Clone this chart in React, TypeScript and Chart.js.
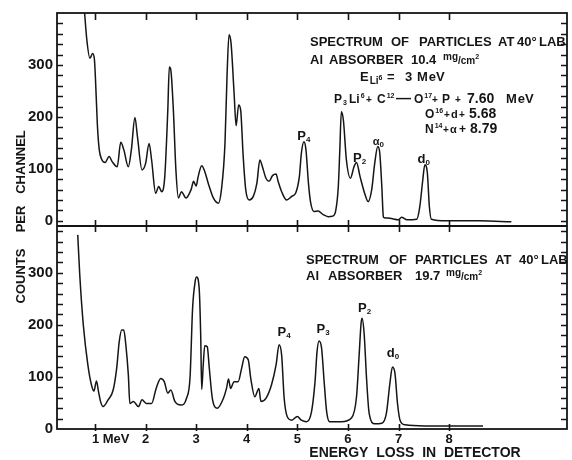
import React, { useEffect, useRef } from 'react';
import { Chart, registerables } from 'chart.js';

Chart.register(...registerables);

// ---------------- data ----------------
// Upper spectrum: Al absorber 10.4 mg/cm^2
const topEnergy = [
  0.78, 0.84, 0.9, 0.955, 0.99, 1.03, 1.05, 1.085, 1.13, 1.2, 1.28, 1.34, 1.44, 1.51, 1.57, 1.66,
  1.72, 1.79, 1.84, 1.93, 2.0, 2.07, 2.12, 2.2, 2.26, 2.32, 2.38, 2.44, 2.47, 2.5, 2.55, 2.6,
  2.65, 2.71, 2.8, 2.9, 2.95, 3.0, 3.04, 3.11, 3.17, 3.24, 3.34, 3.44, 3.5, 3.57, 3.61, 3.65,
  3.69, 3.75, 3.79, 3.84, 3.88, 3.93, 3.98, 4.05, 4.13, 4.2, 4.26, 4.31, 4.38, 4.44, 4.51, 4.58,
  4.62, 4.69, 4.79, 4.89, 4.97, 5.04, 5.08, 5.13, 5.17, 5.22, 5.26, 5.33, 5.41, 5.51, 5.61, 5.7,
  5.76, 5.81, 5.84, 5.87, 5.91, 5.97, 6.05, 6.12, 6.17, 6.24, 6.34, 6.4, 6.47, 6.53, 6.59, 6.63,
  6.67, 6.7, 6.72, 6.83, 7.0, 7.06, 7.16, 7.36, 7.42, 7.48, 7.52, 7.57, 7.61, 7.65, 7.95, 8.61,
  9.23,
];
const topCounts = [
  420, 348, 313, 322, 310, 227, 181, 137, 119, 112, 124, 114, 104, 151, 137, 104,
  137, 199, 162, 98, 110, 149, 117, 53, 66, 56, 85, 213, 296, 290, 213, 98,
  44, 56, 44, 60, 76, 67, 85, 106, 95, 72, 44, 34, 60, 149, 277, 358,
  342, 246, 183, 223, 213, 124, 60, 40, 47, 72, 117, 104, 82, 76, 87, 90,
  76, 56, 40, 47, 54, 85, 130, 152, 137, 72, 37, 18, 19, 12, 8, 9,
  20, 66, 137, 210, 194, 117, 82, 104, 112, 85, 50, 37, 60, 111, 143, 130,
  66, 8, 6, 5, 2, 7, 2, 3, 27, 79, 108, 92, 27, 3, 0, 0,
  -2,
];

// Lower spectrum: Al absorber 19.7 mg/cm^2
const bottomEnergy = [
  0.66, 0.7, 0.77, 0.86, 0.93, 0.98, 1.03, 1.07, 1.11, 1.16, 1.26, 1.36, 1.43, 1.48, 1.53, 1.57,
  1.61, 1.66, 1.69, 1.76, 1.86, 1.93, 2.02, 2.12, 2.21, 2.3, 2.37, 2.44, 2.5, 2.58, 2.7, 2.81,
  2.88, 2.93, 2.98, 3.01, 3.06, 3.09, 3.11, 3.14, 3.17, 3.22, 3.26, 3.32, 3.42, 3.54, 3.6, 3.64,
  3.68, 3.75, 3.83, 3.9, 3.96, 4.03, 4.08, 4.16, 4.24, 4.28, 4.38, 4.49, 4.58, 4.64, 4.69, 4.74,
  4.8, 4.89, 5.0, 5.08, 5.18, 5.28, 5.35, 5.39, 5.43, 5.48, 5.53, 5.58, 5.64, 5.87, 6.07, 6.17,
  6.22, 6.26, 6.28, 6.32, 6.37, 6.42, 6.53, 6.67, 6.76, 6.83, 6.88, 6.93, 6.98, 7.03, 7.13, 7.52,
  8.67,
];
const bottomCounts = [
  373, 296, 200, 123, 85, 73, 92, 72, 53, 43, 56, 75, 117, 168, 190, 190,
  162, 104, 49, 53, 43, 56, 49, 49, 78, 97, 91, 69, 75, 53, 46, 59,
  100, 232, 283, 292, 270, 181, 76, 123, 160, 158, 117, 59, 40, 59, 78, 96,
  78, 91, 91, 117, 139, 133, 97, 62, 78, 53, 59, 85, 123, 162, 142, 59,
  24, 17, 24, 17, 14, 33, 91, 149, 169, 155, 91, 33, 14, 14, 21, 62,
  139, 203, 213, 184, 94, 30, 10, 11, 30, 88, 119, 107, 49, 17, 8, 6,
  6,
];

// axis ticks
const xTickValues = [1, 2, 3, 4, 5, 6, 7, 8];
const xTickLabels = ['1 MeV', '2', '3', '4', '5', '6', '7', '8'];
const yTickValues = [0, 100, 200, 300];
const yMinorTickValues = [0, 20, 40, 60, 80, 100, 120, 140, 160, 180, 200, 220, 240, 260, 280, 300, 320, 340, 360, 380];
const xAxisTitle = 'ENERGY LOSS IN DETECTOR';
const yAxisWords = ['COUNTS', 'PER', 'CHANNEL'];

// peak labels (letter, subscript) placed at data coordinates (energy, counts)
const topPeakNames = [['P', '4'], ['P', '2'], ['α', '0'], ['d', '0']];
const topPeakEnergy = [5.13, 6.23, 6.6, 7.5];
const topPeakLevel = [156, 113, 146, 112];
const bottomPeakNames = [['P', '4'], ['P', '3'], ['P', '2'], ['d', '0']];
const bottomPeakEnergy = [4.74, 5.51, 6.33, 6.89];
const bottomPeakLevel = [179, 185, 225, 138];

// ---------------- styling / layout ----------------
const INK = '#151515';
const FAMILY = '"Liberation Sans", Arial, sans-serif';

// text segment: [text, fontSize, dy, x?]
type Seg = [string, number, number, number?];
type TextLine = { y: number; segs: Seg[] };

const topNote: TextLine[] = [
  { y: 46, segs: [['SPECTRUM', 13, 0, 310], ['OF', 13, 0, 391], ['PARTICLES', 13, 0, 419], ['AT', 13, 0, 498], ['40°', 13, 0, 517], ['LAB', 13, 0, 539]] },
  { y: 64, segs: [['Al', 13, 0, 310], ['ABSORBER', 13, 0, 329], ['10.4', 13, 0, 411], ['mg', 10, -4, 443], ['/', 10, 0], ['cm', 10, 0], ['2', 7, -5]] },
  { y: 81, segs: [['E', 13, 0, 360], ['Li', 10, 3], ['6', 7, -1], ['=', 13, 0, 387], ['3', 13, 0, 405], ['M', 13, 0, 417], ['eV', 13, 0]] },
  { y: 103, segs: [['P', 12, 0, 334], ['3', 7, 2], ['Li', 12, 0, 349], ['6', 7, -5], ['+', 10, 0, 366], ['C', 12, 0, 377], ['12', 7, -5], ['—', 15, 0, 396], ['O', 12, 0, 414], ['17', 7, -5], ['+', 10, 0, 432], ['P', 12, 0, 442], ['+', 10, 0, 455], ['7.60', 14, 0, 467], ['M', 13, 0, 506], ['eV', 13, 0]] },
  { y: 118, segs: [['O', 12, 0, 425], ['16', 7, -5], ['+', 10, 0, 444], ['d', 11, 0, 451], ['+', 10, 0, 459], ['5.68', 14, 0, 469]] },
  { y: 133, segs: [['N', 12, 0, 425], ['14', 7, -5], ['+', 10, 0, 443], ['α', 11, 0, 450], ['+', 12, 0, 459], ['8.79', 14, 0, 470]] },
];

const bottomNote: TextLine[] = [
  { y: 264, segs: [['SPECTRUM', 13, 0, 306], ['OF', 13, 0, 389], ['PARTICLES', 13, 0, 415], ['AT', 13, 0, 495], ['40°', 13, 0, 519], ['LAB', 13, 0, 541]] },
  { y: 280, segs: [['Al', 13, 0, 306], ['ABSORBER', 13, 0, 328], ['19.7', 13, 0, 415], ['mg', 10, -4, 446], ['/', 10, 0], ['cm', 10, 0], ['2', 7, -5]] },
];

function drawSegs(ctx: CanvasRenderingContext2D, line: TextLine) {
  let x = 0;
  for (const [t, size, dy, ax] of line.segs) {
    if (ax !== undefined) x = ax;
    ctx.font = `bold ${size}px ${FAMILY}`;
    ctx.fillText(t, x, line.y + dy);
    x += ctx.measureText(t).width + (size >= 12 ? 1 : 0);
  }
}

function drawPeakLabel(ctx: CanvasRenderingContext2D, name: string[], cx: number, by: number) {
  const mainSize = name[0] === 'α' ? 11 : 13;
  ctx.font = `bold ${mainSize}px ${FAMILY}`;
  const w1 = ctx.measureText(name[0]).width;
  ctx.font = `bold 8px ${FAMILY}`;
  const w2 = ctx.measureText(name[1]).width;
  const x0 = cx - (w1 + w2) / 2;
  ctx.font = `bold ${mainSize}px ${FAMILY}`;
  ctx.fillText(name[0], x0, by);
  ctx.font = `bold 8px ${FAMILY}`;
  ctx.fillText(name[1], x0 + w1, by + 2);
}

const framePlugin = {
  id: 'frameAndNotes',
  afterDraw(chart: any) {
    const { ctx } = chart;
    const xs = chart.scales.x;
    const yt = chart.scales.yTop;
    const yb = chart.scales.yBot;
    const left = chart.chartArea.left;
    const right = chart.chartArea.right;
    const seg = (x1: number, y1: number, x2: number, y2: number) => {
      ctx.beginPath();
      ctx.moveTo(x1, y1);
      ctx.lineTo(x2, y2);
      ctx.stroke();
    };
    ctx.save();
    ctx.strokeStyle = INK;
    ctx.fillStyle = INK;
    ctx.lineWidth = 1.8;
    ctx.strokeRect(left, yt.top, right - left, yb.bottom - yt.top);
    seg(left, yb.top, right, yb.top);

    // minor ticks on left and right (inside)
    ctx.lineWidth = 1.5;
    for (const s of [yt, yb]) {
      for (const v of yMinorTickValues) {
        const py = Math.round(s.getPixelForValue(v)) + 0.5;
        if (py < s.top + 3 || py > s.bottom - 1) continue;
        seg(left, py, left + 6, py);
        seg(right - 6, py, right, py);
      }
    }
    // x ticks on top border, divider and bottom axis
    ctx.lineWidth = 1.6;
    for (const v of xTickValues) {
      const px = Math.round(xs.getPixelForValue(v)) + 0.5;
      seg(px, yt.top, px, yt.top + 7);
      seg(px, yb.top - 6, px, yb.top + 6);
      seg(px, yb.bottom - 5, px, yb.bottom + 2);
    }

    // x tick labels
    ctx.textBaseline = 'alphabetic';
    ctx.font = `bold 13px ${FAMILY}`;
    xTickValues.forEach((v, i) => {
      const px = xs.getPixelForValue(v);
      const label = xTickLabels[i];
      if (i === 0) {
        ctx.textAlign = 'left';
        ctx.fillText(label, px - 3, 443);
      } else {
        ctx.textAlign = 'center';
        ctx.fillText(label, px, 443);
      }
    });
    // x axis title
    ctx.textAlign = 'center';
    ctx.font = `bold 14px ${FAMILY}`;
    ctx.fillText(xAxisTitle.split(' ').join('  '), 415, 457);

    // y axis title (rotated)
    ctx.save();
    ctx.translate(25, 217);
    ctx.rotate(-Math.PI / 2);
    ctx.font = `bold 13px ${FAMILY}`;
    ctx.textAlign = 'center';
    const centers = [-59, -2, 55];
    yAxisWords.forEach((w, i) => ctx.fillText(w, centers[i], 0));
    ctx.restore();

    // notes
    ctx.textAlign = 'left';
    topNote.forEach((l) => drawSegs(ctx, l));
    bottomNote.forEach((l) => drawSegs(ctx, l));

    // peak labels
    topPeakNames.forEach((n, i) =>
      drawPeakLabel(ctx, n, xs.getPixelForValue(topPeakEnergy[i]), yt.getPixelForValue(topPeakLevel[i])),
    );
    bottomPeakNames.forEach((n, i) =>
      drawPeakLabel(ctx, n, xs.getPixelForValue(bottomPeakEnergy[i]), yb.getPixelForValue(bottomPeakLevel[i])),
    );
    ctx.restore();
  },
};

const yScaleCommon = {
  type: 'linear' as const,
  position: 'left' as const,
  stack: 'panels',
  grid: { display: false, drawTicks: false },
  border: { display: false },
  ticks: {
    autoSkip: false,
    padding: 4,
    color: INK,
    font: { family: FAMILY, size: 15, weight: 'bold' as const },
  },
  afterBuildTicks: (s: any) => {
    s.ticks = yTickValues.map((v) => ({ value: v }));
  },
  afterFit: (s: any) => {
    s.width = 57;
  },
};

export default function App() {
  const canvasRef = useRef<HTMLCanvasElement | null>(null);

  useEffect(() => {
    const canvas = canvasRef.current;
    if (!canvas) return;
    const chart = new Chart(canvas, {
      type: 'line',
      data: {
        datasets: [
          {
            label: 'Al absorber 19.7 mg/cm²',
            data: bottomEnergy.map((e, i) => ({ x: e, y: bottomCounts[i] })),
            xAxisID: 'x',
            yAxisID: 'yBot',
            borderColor: INK,
            borderWidth: 1.5,
            pointRadius: 0,
            fill: false,
            cubicInterpolationMode: 'monotone',
          },
          {
            label: 'Al absorber 10.4 mg/cm²',
            data: topEnergy.map((e, i) => ({ x: e, y: topCounts[i] })),
            xAxisID: 'x',
            yAxisID: 'yTop',
            borderColor: INK,
            borderWidth: 1.5,
            pointRadius: 0,
            fill: false,
            cubicInterpolationMode: 'monotone',
          },
        ],
      },
      options: {
        animation: false,
        responsive: false,
        maintainAspectRatio: false,
        devicePixelRatio: 1,
        layout: { padding: { left: 0, right: 5, top: 13, bottom: 31 } },
        plugins: { legend: { display: false }, tooltip: { enabled: false } },
        scales: {
          x: { type: 'linear', min: 0.25, max: 10.33, display: false },
          yBot: { ...yScaleCommon, min: 0, max: 390, stackWeight: 203, weight: 0 },
          yTop: { ...yScaleCommon, min: -10, max: 400, stackWeight: 213, weight: 1 },
        },
      } as any,
      plugins: [framePlugin],
    });
    return () => chart.destroy();
  }, []);

  return (
    <div style={{ position: 'fixed', left: 0, top: 0, width: 572, height: 460, background: '#fff' }}>
      <canvas ref={canvasRef} width={572} height={460} style={{ width: 572, height: 460, display: 'block' }} />
    </div>
  );
}
